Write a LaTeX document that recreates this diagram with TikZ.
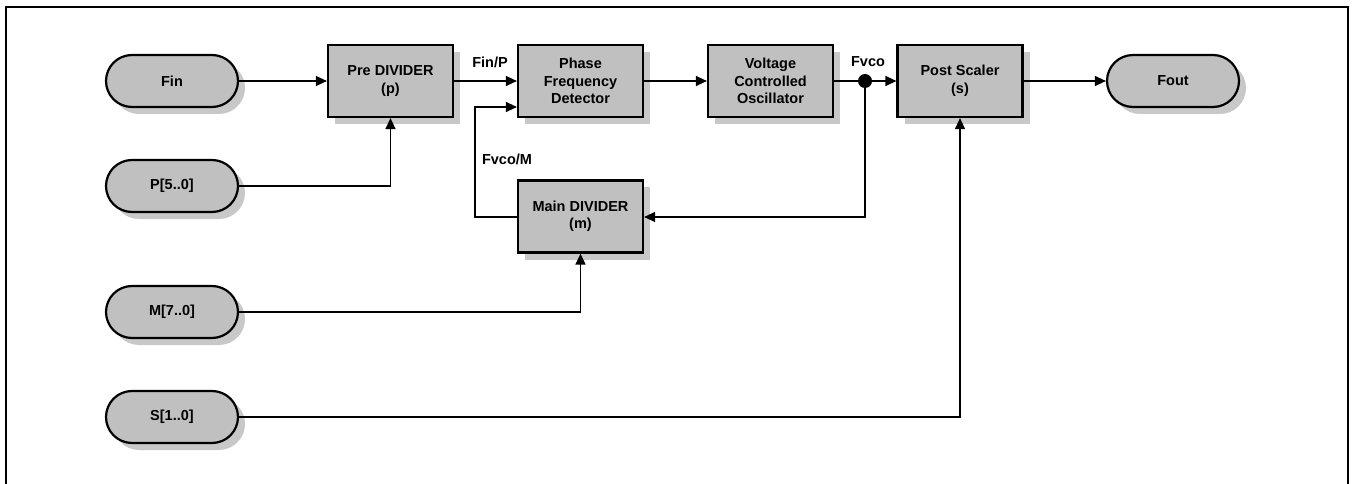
\documentclass[tikz,border=0pt]{standalone}
\usepackage{fontspec}
\setmainfont{Liberation Sans}
\usetikzlibrary{arrows.meta,shadows}
\definecolor{boxgray}{RGB}{192,192,192}
\definecolor{shadowgray}{RGB}{200,200,200}
\tikzset{
  blk/.style={draw=black, line width=2.2pt, fill=boxgray, minimum width=125pt, minimum height=72pt,
    inner sep=0pt, align=center, font=\fontsize{14.5}{17.5}\selectfont\bfseries,
    drop shadow={shadow xshift=7pt, shadow yshift=-7pt, fill=shadowgray, opacity=1}},
  pill/.style={blk, minimum width=132pt, minimum height=52pt, rounded corners=26pt},
  conn/.style={line width=1.3pt, -{Triangle[length=11pt,width=10pt]}},
  wire/.style={line width=1.3pt},
  lbl/.style={font=\fontsize{14.5}{17.5}\selectfont\bfseries, inner sep=0pt},
}
\begin{document}
\begin{tikzpicture}[x=1pt,y=-1pt]
\useasboundingbox (0,0) rectangle (1353,484);
\draw[line width=2.7pt] (6,490) -- (6,7) -- (1348,7) -- (1348,490);

\node[pill] (fin) at (172,81) {Fin};
\node[pill] (p) at (172,186) {P[5..0]};
\node[pill] (m) at (172,312) {M[7..0]};
\node[pill] (s) at (172,417) {S[1..0]};

\node[blk] (pre) at (390.5,81) {Pre DIVIDER\\(p)};
\node[blk] (pfd) at (580.5,81) {Phase\\Frequency\\Detector};
\node[blk] (vco) at (770.5,81) {Voltage\\Controlled\\Oscillator};
\node[blk] (post) at (960,81) {Post Scaler\\(s)};
\node[pill] (fout) at (1173,81) {Fout};
\node[blk] (main) at (580.5,216.5) {Main DIVIDER\\(m)};

\node[circle, fill=black, minimum size=14pt, inner sep=0pt] (dot) at (865,81) {};

\coordinate (fbl) at (475,217);
\coordinate (fbt) at (475,107);
\coordinate (dotdown) at (865,217);

\draw[conn] (fin.east) -- (pre.west);
\draw[conn] (p.east) -| (pre.south);
\draw[conn] (pre.east) -- (pfd.west);
\draw[conn] (pfd.east) -- (vco.west);
\draw[wire] (vco.east) -- (dot.center);
\draw[conn] (dot.center) -- (post.west);
\draw[conn] (dot.center) -- (dotdown) -- (main.east |- dotdown);
\draw[conn] (main.west |- fbl) -- (fbl) -- (fbt) -- (pfd.west |- fbt);
\draw[conn] (m.east) -| (main.south);
\draw[conn] (s.east) -| (post.south);
\draw[conn] (post.east) -- (fout.west);

\node[lbl] (finp) at (490,62) {Fin/P};
\node[lbl] (fvcom) at (507,159) {Fvco/M};
\node[lbl] (fvco) at (868,62) {Fvco};
\end{tikzpicture}
\end{document}
